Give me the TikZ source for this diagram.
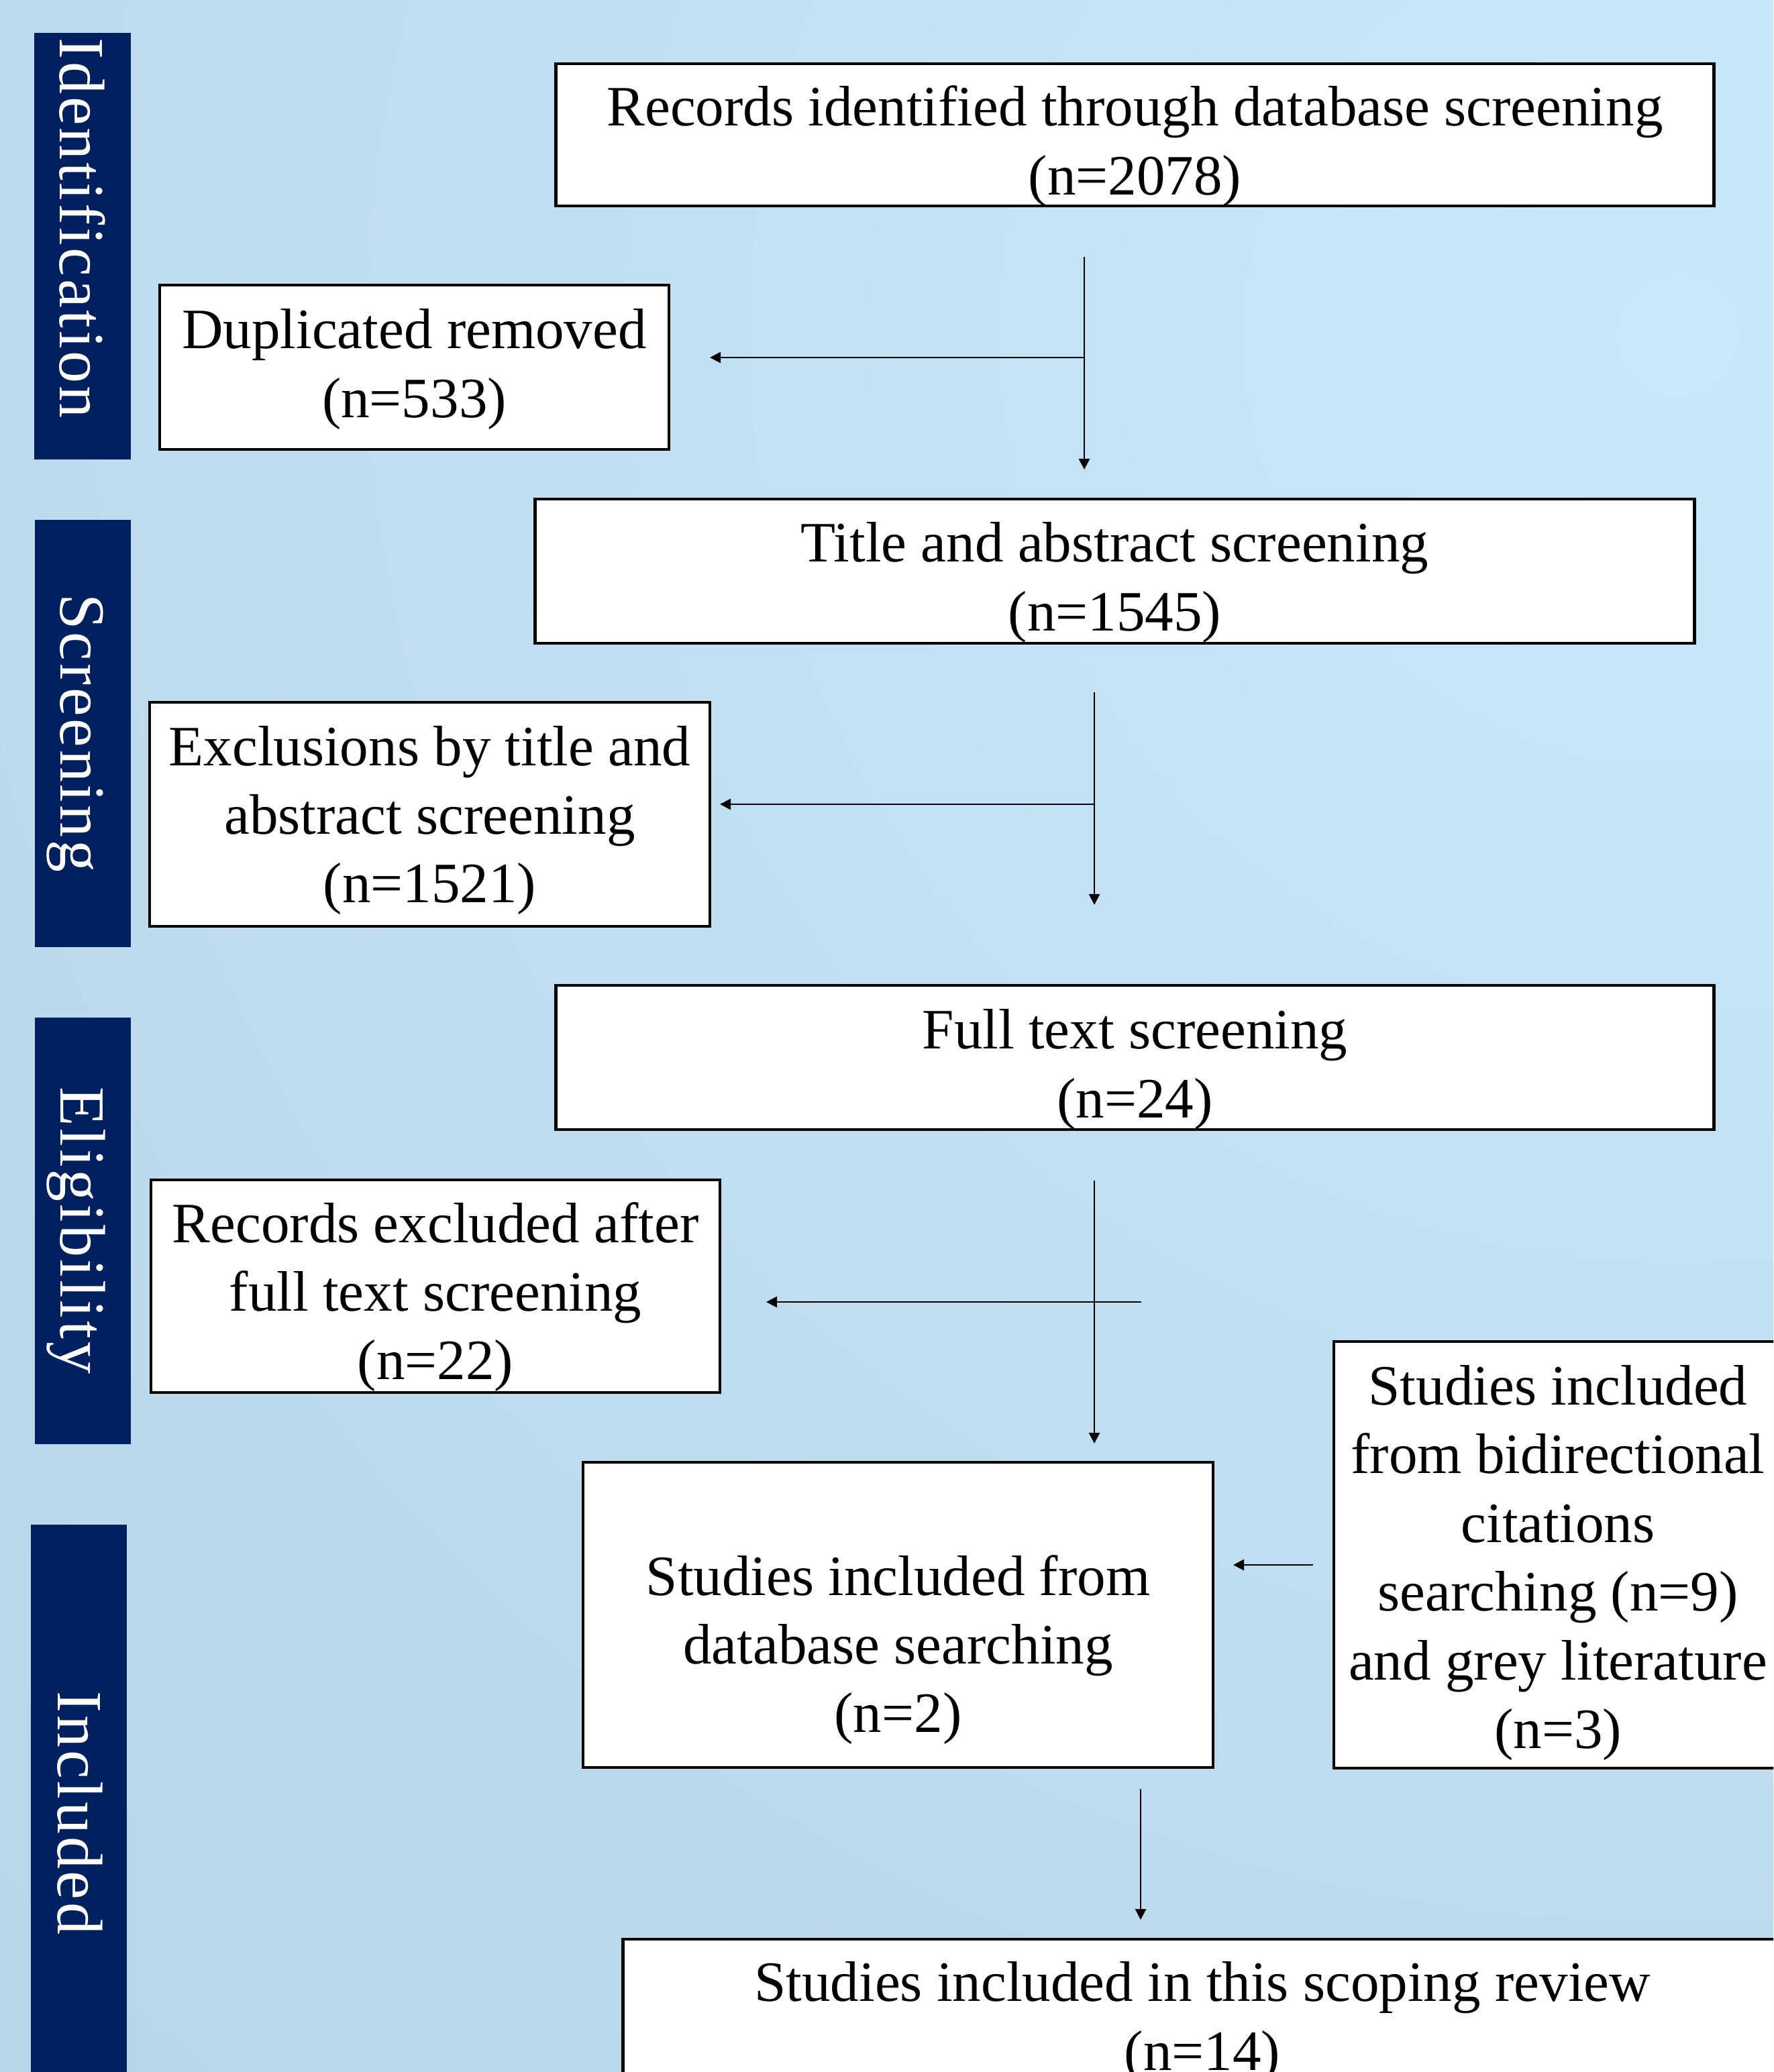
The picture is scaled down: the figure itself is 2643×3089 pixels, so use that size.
\documentclass[tikz,border=0pt]{standalone}
\usepackage{fontspec}
\setmainfont{Liberation Serif}
\newfontfamily\lblfam{Liberation Serif}[LetterSpace=4]
\usetikzlibrary{arrows.meta}
\definecolor{navy}{RGB}{0,32,96}
\definecolor{bgin}{RGB}{201,232,250}
\definecolor{bgout}{RGB}{166,193,216}
\pgfdeclareradialshading{bgshade}{\pgfpointorigin}{color(0bp)=(bgin); color(50bp)=(bgout)}
\newcommand\bxfont{\fontsize{24.2pt}{29.1pt}\selectfont}
\newcommand\lblfont{\lblfam\fontsize{27.3pt}{32pt}\selectfont}
\tikzset{
  box/.style={draw=black, line width=1.2pt, fill=white, inner sep=0pt},
  txt/.style={align=center, inner sep=0pt, font=\bxfont},
  bar/.style={fill=navy, draw=none, inner sep=0pt},
  barlabel/.style={text=white, font=\lblfont, rotate=-90, anchor=base, inner sep=0pt},
  conn/.style={line width=0.8pt, draw=black},
  arr/.style={conn, -{Triangle[length=0.16cm,width=0.16cm]}}
}
\begin{document}
\begin{tikzpicture}[x=0.01cm, y=-0.01cm]
\useasboundingbox (0,0) rectangle (2643,3089);
\begin{scope}
\clip (0,0) rectangle (2643,3089);
\fill[bgout] (0,0) rectangle (2643,3089);
\shade[shading=bgshade] (2500,500) circle (36cm);

% side bars
\node[bar, minimum width=1.44cm, minimum height=6.36cm] (barI) at (123,367) {};
\node[bar, minimum width=1.43cm, minimum height=6.37cm] (barS) at (123.5,1093.5) {};
\node[bar, minimum width=1.43cm, minimum height=6.36cm] (barE) at (123.5,1835) {};
\node[bar, minimum width=1.43cm, minimum height=8.80cm] (barC) at (117.5,2713) {};
\node[barlabel] (lblI) at (89,340) {Identification};
\node[barlabel] (lblS) at (90,1093) {Screening};
\node[barlabel] (lblE) at (90,1834) {Eligibility};
\node[barlabel] (lblC) at (86,2703) {Included};

% boxes
\node[box, minimum width=17.25cm, minimum height=2.12cm] (rec) at (1691.5,201) {};
\node[txt] (recT) at ([yshift=-0.17cm]rec.center) {Records identified through database screening\\(n=2078)};
\node[box, minimum width=7.59cm, minimum height=2.45cm] (dup) at (617.5,547.5) {};
\node[txt] (dupT) at ([yshift=-0.03cm]dup.center) {Duplicated removed\\(n=533)};
\node[box, minimum width=17.27cm, minimum height=2.15cm] (tas) at (1661.5,851.5) {};
\node[txt] (tasT) at ([yshift=-0.17cm]tas.center) {Title and abstract screening\\(n=1545)};
\node[box, minimum width=8.35cm, minimum height=3.34cm] (exc) at (640.5,1214) {};
\node[txt] (excT) at ([yshift=-0.09cm]exc.center) {Exclusions by title and\\abstract screening\\(n=1521)};
\node[box, minimum width=17.25cm, minimum height=2.15cm] (fts) at (1691.5,1576.5) {};
\node[txt] (ftsT) at ([yshift=-0.18cm]fts.center) {Full text screening\\(n=24)};
\node[box, minimum width=8.48cm, minimum height=3.17cm] (rex) at (649,1917.5) {};
\node[txt] (rexT) at ([yshift=-0.16cm]rex.center) {Records excluded after\\full text screening\\(n=22)};
\node[box, minimum width=9.39cm, minimum height=4.55cm] (db) at (1338.5,2407.5) {};
\node[txt] (dbT) at ([yshift=-0.52cm]db.center) {Studies included from\\database searching\\(n=2)};
\node[box, minimum width=6.68cm, minimum height=6.36cm] (bid) at (2322,2318) {};
\node[txt] (bidT) at ([yshift=-0.12cm]bid.center) {Studies included\\from bidirectional\\citations\\searching (n=9)\\and grey literature\\(n=3)};
\node[box, minimum width=17.26cm, minimum height=2.15cm] (fin) at (1792,2998.5) {};
\node[txt] (finT) at ([yshift=-0.16cm]fin.center) {Studies included in this scoping review\\(n=14)};

% connectors
\coordinate (a1s) at (1616,383);
\coordinate (a1e) at (1616,700);
\coordinate (a1m) at (1616,533);
\coordinate (a1l) at (1058,533);
\draw[arr] (a1s) -- (a1e);
\draw[arr] (a1m) -- (a1l);

\coordinate (a2s) at (1631,1032);
\coordinate (a2e) at (1631,1349);
\coordinate (a2m) at (1631,1199);
\coordinate (a2l) at (1073,1199);
\draw[arr] (a2s) -- (a2e);
\draw[arr] (a2m) -- (a2l);

\coordinate (a3s) at (1631,1760);
\coordinate (a3e) at (1631,2152);
\coordinate (a3m) at (1701,1941);
\coordinate (a3l) at (1142,1941);
\draw[arr] (a3s) -- (a3e);
\draw[arr] (a3m) -- (a3l);

\coordinate (a4s) at (1957,2333);
\coordinate (a4e) at (1838,2333);
\draw[arr] (a4s) -- (a4e);

\coordinate (a5s) at (1700,2667);
\coordinate (a5e) at (1700,2862);
\draw[arr] (a5s) -- (a5e);
\end{scope}
\end{tikzpicture}
\end{document}
